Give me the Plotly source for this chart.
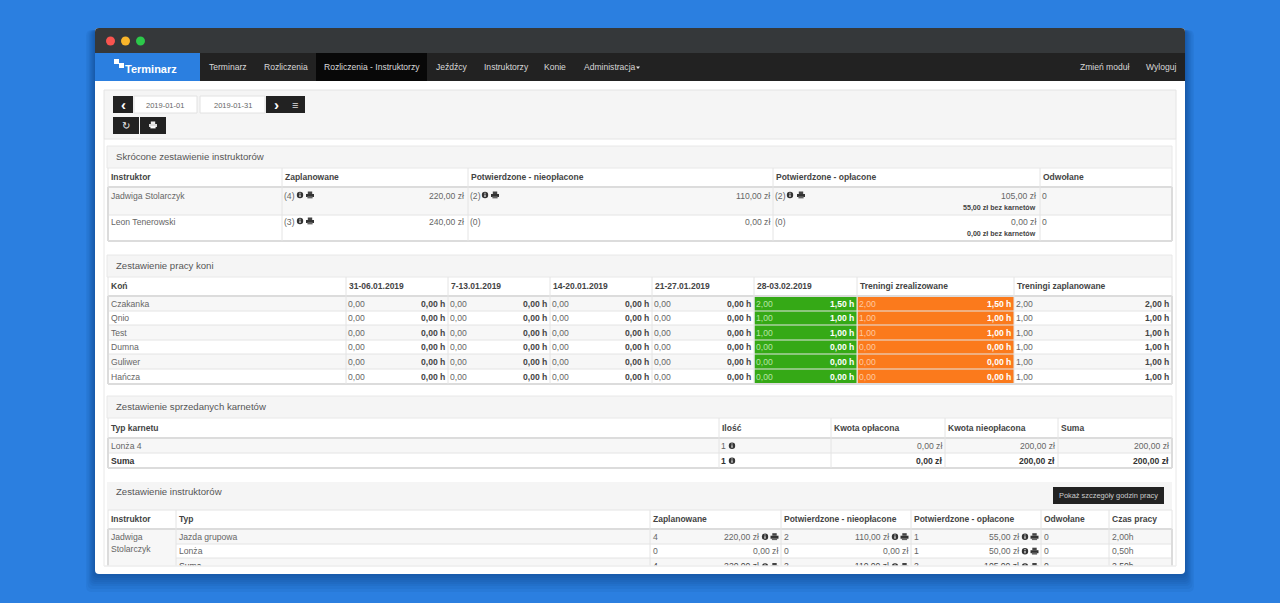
import plotly.graph_objects as go

FONT = "Liberation Sans"
TEXT = "#666666"
DARK = "#444444"
LINE = "#e4e4e4"
BODY_LINE = "#dcdcdc"

# navigation
nav_items = ["Terminarz", "Rozliczenia", "Rozliczenia - Instruktorzy", "Jeźdźcy", "Instruktorzy", "Konie", "Administracja"]
nav_x = [209, 263.5, 324, 436, 484, 544, 583.5]
nav_right = ["Zmień moduł", "Wyloguj"]
nav_right_x = [1080, 1146]
date_from = "2019-01-01"
date_to = "2019-01-31"

# table 1
short_title = "Skrócone zestawienie instruktorów"
short_cols = ["Instruktor", "Zaplanowane", "Potwierdzone - nieopłacone", "Potwierdzone - opłacone", "Odwołane"]
short_names = ["Jadwiga Stolarczyk", "Leon Tenerowski"]
short_plan_n = ["(4)", "(3)"]
short_plan = ["220,00 zł", "240,00 zł"]
short_unpaid_n = ["(2)", "(0)"]
short_unpaid = ["110,00 zł", "0,00 zł"]
short_paid_n = ["(2)", "(0)"]
short_paid = ["105,00 zł", "0,00 zł"]
short_no_pass = ["55,00 zł bez karnetów", "0,00 zł bez karnetów"]
short_cancelled = ["0", "0"]

# table 2
horse_title = "Zestawienie pracy koni"
horse_cols = ["Koń", "31-06.01.2019", "7-13.01.2019", "14-20.01.2019", "21-27.01.2019", "28-03.02.2019",
              "Treningi zrealizowane", "Treningi zaplanowane"]
horses = ["Czakanka", "Qnio", "Test", "Dumna", "Guliwer", "Hańcza"]
zero_count = ["0,00", "0,00", "0,00", "0,00", "0,00", "0,00"]
zero_hours = ["0,00 h", "0,00 h", "0,00 h", "0,00 h", "0,00 h", "0,00 h"]
last_week_count = ["2,00", "1,00", "1,00", "0,00", "0,00", "0,00"]
last_week_hours = ["1,50 h", "1,00 h", "1,00 h", "0,00 h", "0,00 h", "0,00 h"]
planned_count = ["2,00", "1,00", "1,00", "1,00", "1,00", "1,00"]
planned_hours = ["2,00 h", "1,00 h", "1,00 h", "1,00 h", "1,00 h", "1,00 h"]

# table 3
pass_title = "Zestawienie sprzedanych karnetów"
pass_cols = ["Typ karnetu", "Ilość", "Kwota opłacona", "Kwota nieopłacona", "Suma"]
pass_rows = [["Lonża 4", "1", "0,00 zł", "200,00 zł", "200,00 zł"],
             ["Suma", "1", "0,00 zł", "200,00 zł", "200,00 zł"]]

# table 4
inst_title = "Zestawienie instruktorów"
inst_button = "Pokaż szczegóły godzin pracy"
inst_cols = ["Instruktor", "Typ", "Zaplanowane", "Potwierdzone - nieopłacone", "Potwierdzone - opłacone", "Odwołane", "Czas pracy"]
inst_rows = [["Jazda grupowa", "4", "220,00 zł", "2", "110,00 zł", "1", "55,00 zł", "0", "2,00h"],
             ["Lonża", "0", "0,00 zł", "0", "0,00 zł", "1", "50,00 zł", "0", "0,50h"],
             ["Suma", "4", "220,00 zł", "2", "110,00 zł", "2", "105,00 zł", "0", "2,50h"]]

shapes = []
notes = []


def rect(x0, y0, x1, y1, fill, line=None, layer="below"):
    shapes.append(dict(type="rect", x0=x0, y0=y0, x1=x1, y1=y1, fillcolor=fill, layer=layer,
                       line=dict(color=line or fill, width=1 if line else 0)))


def hline(x0, x1, y, color=LINE, width=1, layer="below"):
    shapes.append(dict(type="line", x0=x0, x1=x1, y0=y, y1=y, layer=layer, line=dict(color=color, width=width)))


def vline(x, y0, y1, color=LINE, width=1):
    shapes.append(dict(type="line", x0=x, x1=x, y0=y0, y1=y1, layer="below", line=dict(color=color, width=width)))


# annotations carry a small pad, so the anchor is moved back by it
def label(x, y, text, size=8.6, color=TEXT, anchor="left", bold=False):
    x = x - 2 if anchor == "left" else x + 2 if anchor == "right" else x
    notes.append(dict(x=x, y=y, text=f"<b>{text}</b>" if bold else text, showarrow=False, xanchor=anchor,
                      yanchor="middle", font=dict(family=FONT, size=size, color=color)))


def head(x, y, text):
    label(x + 3, y, text, size=8.5, color=DARK, bold=True)


def info_icon(x, y):
    shapes.append(dict(type="circle", x0=x - 3.2, x1=x + 3.2, y0=y - 3.2, y1=y + 3.2, fillcolor="#333333",
                       layer="below", line=dict(width=0)))
    rect(x - 0.6, y - 0.5, x + 0.6, y + 2, "#eeeeee")
    rect(x - 0.6, y - 2.2, x + 0.6, y - 1.2, "#eeeeee")


def print_icon(x, y, top="#444444", body="#333333", tray="#666666"):
    rect(x - 2.2, y - 3.5, x + 2.2, y - 1, top)
    rect(x - 4, y - 1, x + 4, y + 2, body)
    rect(x - 2.6, y + 1.2, x + 2.6, y + 3.4, tray)


def rounded(x0, y0, x1, y1, r, fill, top_only=False):
    if top_only:
        path = f"M{x0},{y1} L{x0},{y0 + r} Q{x0},{y0} {x0 + r},{y0} L{x1 - r},{y0} Q{x1},{y0} {x1},{y0 + r} L{x1},{y1} Z"
    else:
        path = (f"M{x0},{y1 - r} L{x0},{y0 + r} Q{x0},{y0} {x0 + r},{y0} L{x1 - r},{y0} Q{x1},{y0} {x1},{y0 + r} "
                f"L{x1},{y1 - r} Q{x1},{y1} {x1 - r},{y1} L{x0 + r},{y1} Q{x0},{y1} {x0},{y1 - r} Z")
    shapes.append(dict(type="path", path=path, fillcolor=fill, line=dict(width=0), layer="below"))


def section_frame(title, top, bottom):
    rect(107, top, 1172, bottom, "#f5f5f5", "#e8e8e8")
    label(116, (top + bottom) / 2 - 0.5, title, size=9.6, color="#555555")


def grid(cols, top, body_top, bottom):
    for x in cols:
        vline(x, top, bottom)
    vline(cols[0], body_top, bottom, BODY_LINE, 2)
    vline(cols[-1], body_top, bottom, BODY_LINE, 2)


# window with its soft shadow
for grow in [18, 15, 12, 10, 8, 6, 4, 2]:
    rounded(95 - grow * 0.5, 30, 1185 + grow * 0.5, 574 + grow, 6, "rgba(8,40,90,0.055)")
rounded(95, 28, 1185, 574, 4, "#ffffff")
rounded(95, 28, 1185, 53, 4, "#35383a", top_only=True)
for cx, col in zip([110.5, 125.5, 140.5], ["#f9544f", "#f9b52b", "#2cc84a"]):
    shapes.append(dict(type="circle", x0=cx - 4.5, x1=cx + 4.5, y0=36.5, y1=45.5, fillcolor=col,
                       layer="below", line=dict(width=0)))

# navbar
rect(95, 53, 1185, 81, "#222222")
rect(95, 53, 200, 81, "#2b7fe0")
rect(316, 53, 427, 81, "#080808")
rect(114, 59, 119, 64, "#ffffff")
rect(119, 63, 124, 68, "#ffffff")
label(125, 68.5, "Terminarz", size=11, color="#ffffff", bold=True)
for x, t in zip(nav_x, nav_items):
    label(x, 67, t, size=8.55, color="#d8d8d8")
shapes.append(dict(type="path", path="M636,66.5 L640,66.5 L638,69 Z", fillcolor="#dddddd", layer="below",
                   line=dict(width=0)))
for x, t in zip(nav_right_x, nav_right):
    label(x, 67, t, size=8.55, color="#d8d8d8")

# toolbar
rect(104, 90, 1176, 139, "#f5f5f5", "#e4e4e4")
vline(104, 139, 566, "#e8e8e8")
vline(1176, 139, 566, "#e8e8e8")
rect(113, 96, 133, 113, "#222222")
rect(134, 96, 197, 113, "#ffffff", "#e2e2e2")
rect(200, 96, 265, 113, "#ffffff", "#e2e2e2")
rect(266, 96, 305, 113, "#222222")
rect(113, 117, 139, 134, "#222222")
rect(140, 117, 166, 134, "#222222")
label(165, 105, date_from, size=7.5, anchor="center")
label(232.5, 105, date_to, size=7.5, anchor="center")
label(123, 104, "‹", size=15, color="#ffffff", anchor="center", bold=True)
label(276, 104, "›", size=15, color="#ffffff", anchor="center", bold=True)
label(295, 104.5, "≡", size=11, color="#dddddd", anchor="center")
label(126, 125.5, "↻", size=10, color="#eeeeee", anchor="center")
print_icon(153, 125, "#eeeeee", "#dddddd", "#ffffff")

# table 1
c1 = [108, 282, 468, 773, 1040, 1172]
section_frame(short_title, 146, 168)
rect(108, 187, 1172, 215, "#f7f7f7")
hline(108, 1172, 187, BODY_LINE, 2)
hline(108, 1172, 215)
hline(108, 1172, 241, BODY_LINE, 2)
grid(c1, 168, 187, 241)
for x, t in zip(c1, short_cols):
    head(x, 177, t)
for i, y in enumerate([196, 222]):
    label(111, y, short_names[i])
    label(284, y, short_plan_n[i])
    info_icon(300, y - 1)
    print_icon(310, y - 1)
    label(464, y, short_plan[i], anchor="right")
    label(470, y, short_unpaid_n[i])
    if short_unpaid_n[i] != "(0)":
        info_icon(485, y - 1)
        print_icon(495, y - 1)
    label(770, y, short_unpaid[i], anchor="right")
    label(775, y, short_paid_n[i])
    if short_paid_n[i] != "(0)":
        info_icon(790, y - 1)
        print_icon(801, y - 1)
    label(1036, y, short_paid[i], anchor="right")
    label(1036, y + 12, short_no_pass[i], size=7.1, color=DARK, anchor="right", bold=True)
    label(1042, y, short_cancelled[i])

# table 2
c2 = [108, 346, 448, 550, 652, 754, 857, 1014, 1172]
rows2 = [296, 311, 325, 340, 354, 369, 384]
section_frame(horse_title, 255, 277)
for i in range(6):
    if i % 2 == 0:
        rect(108, rows2[i], 1172, rows2[i + 1], "#f7f7f7")
rect(754.5, 296, 857, 384, "#35a916")
rect(857.5, 296, 1014, 384, "#fb7a1c")
for y in rows2[1:]:
    hline(108, 1172, y)
hline(108, 1172, 296, BODY_LINE, 2)
hline(108, 1172, 384, BODY_LINE, 2)
grid(c2, 277, 296, 384)
for x, t in zip(c2, horse_cols):
    head(x, 285.5, t)
for i, h in enumerate(horses):
    y = (rows2[i] + rows2[i + 1]) / 2 + 0.2
    label(111, y, h)
    for j in range(1, 5):
        label(c2[j] + 2, y, zero_count[i])
        label(c2[j + 1] - 3, y, zero_hours[i], color=DARK, anchor="right", bold=True)
    label(c2[5] + 2, y, last_week_count[i], color="#b6e5a6")
    label(c2[6] - 3, y, last_week_hours[i], color="#ffffff", anchor="right", bold=True)
    label(c2[6] + 2, y, last_week_count[i], color="#ffc9a0")
    label(c2[7] - 3, y, last_week_hours[i], color="#ffffff", anchor="right", bold=True)
    label(c2[7] + 2, y, planned_count[i])
    label(c2[8] - 3, y, planned_hours[i], color=DARK, anchor="right", bold=True)

# table 3
c3 = [108, 719, 831, 945, 1058, 1172]
rows3 = [438, 453, 468]
section_frame(pass_title, 396, 418)
rect(108, 438, 1172, 453, "#f7f7f7")
hline(108, 1172, 438, BODY_LINE, 2)
hline(108, 1172, 453)
hline(108, 1172, 468, BODY_LINE, 2)
grid(c3, 418, 438, 468)
for x, t in zip(c3, pass_cols):
    head(x, 427.5, t)
for i, row in enumerate(pass_rows):
    y = (rows3[i] + rows3[i + 1]) / 2 + 0.2
    b = row[0] == "Suma"
    col = "#333333" if b else TEXT
    label(111, y, row[0], color=col, bold=b)
    label(721, y, row[1], color=col, bold=b)
    info_icon(732, y)
    label(c3[2] + 111, y, row[2], color=col, anchor="right", bold=b)
    label(c3[4] - 3, y, row[3], color=col, anchor="right", bold=b)
    label(c3[5] - 3, y, row[4], color=col, anchor="right", bold=b)

# table 4
c4 = [108, 176, 650, 781, 911, 1041, 1109, 1172]
rows4 = [529, 544, 558, 572]
rect(107, 482, 1172, 510, "#f5f5f5")
label(116, 491.5, inst_title, size=9.6, color="#555555")
rect(1053, 487, 1164, 504, "#222222")
label(1108.5, 495.5, inst_button, size=7.4, color="#cccccc", anchor="center")
rect(108, 529, 1172, 544, "#f7f7f7")
rect(108, 544, 176, 566, "#f7f7f7")
rect(176, 558, 1172, 566, "#f7f7f7")
hline(108, 1172, 510)
hline(108, 1172, 529, BODY_LINE, 2)
hline(176, 1172, 544)
hline(176, 1172, 558)
grid(c4, 510, 529, 566)
for x, t in zip(c4, inst_cols):
    head(x, 519, t)
label(111, 537, "Jadwiga")
label(111, 549, "Stolarczyk")
for i, row in enumerate(inst_rows[:2]):
    y = (rows4[i] + rows4[i + 1]) / 2 + 0.2
    has_icons = [i == 0, i == 0, True]
    label(179, y, row[0])
    label(653, y, row[1])
    for k, (cx, rx) in enumerate(zip(c4[2:5], c4[3:6])):
        if k:
            label(cx + 3, y, row[1 + 2 * k])
        if has_icons[k]:
            label(rx - 22, y, row[2 + 2 * k], anchor="right")
            info_icon(rx - 16, y)
            print_icon(rx - 6.5, y)
        else:
            label(rx - 3, y, row[2 + 2 * k], anchor="right")
    label(1044, y, row[7])
    label(1112, y, row[8])
for rx in c4[3:6]:
    info_icon(rx - 16, 566.5)
    print_icon(rx - 6.5, 566.5)

# last row is cut by the page edge: drawn as a trace so the white cover can sit on top of it
suma_x = [179, 653, 759, 784, 889, 914, 1019, 1044, 1112]
suma_pos = ["middle right", "middle right", "middle left", "middle right", "middle left", "middle right",
            "middle left", "middle right", "middle right"]
rect(104, 565.5, 1176, 574, "#ffffff", layer="above")
hline(104, 1176, 566, "#e4e4e4", layer="above")

fig = go.Figure(go.Scatter(x=suma_x, y=[566.5] * 9, mode="text", text=inst_rows[2], textposition=suma_pos,
                           textfont=dict(family=FONT, size=8.6, color=DARK), hoverinfo="skip"))
fig.update_layout(
    width=1280, height=603, margin=dict(l=0, r=0, t=0, b=0), showlegend=False,
    paper_bgcolor="#2b7fe0", plot_bgcolor="#2b7fe0", shapes=shapes, annotations=notes,
    xaxis=dict(range=[0, 1280], visible=False, fixedrange=True),
    yaxis=dict(range=[603, 0], visible=False, fixedrange=True),
)
fig.write_html("out.html", post_script="document.body.style.margin='0';", config=dict(displayModeBar=False))
